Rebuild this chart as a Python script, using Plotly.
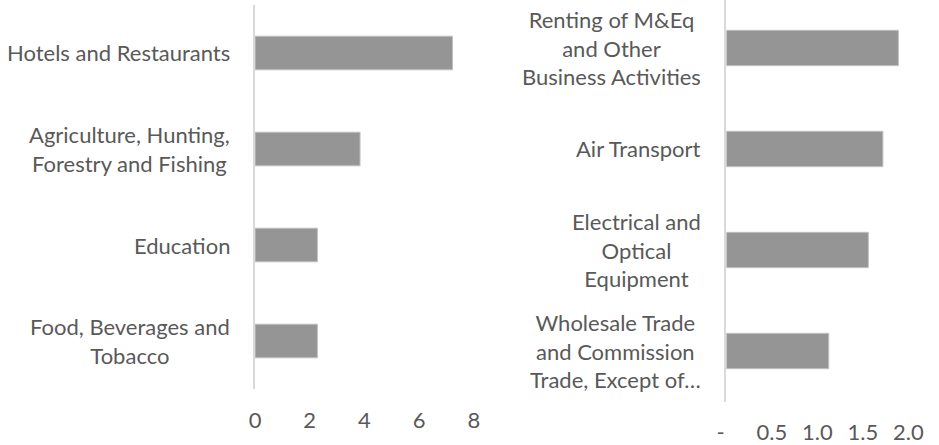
import plotly.graph_objects as go

# left panel
left_cats = ["Hotels and Restaurants",
             "Agriculture, Hunting,<br>Forestry and Fishing",
             "Education",
             "Food, Beverages and<br>Tobacco"]
left_vals = [7.22, 3.84, 2.28, 2.28]
left_ticks = [0, 2, 4, 6, 8]
left_ticktext = ["0", "2", "4", "6", "8"]

# right panel
right_cats = ["Renting of M&Eq<br>and Other<br>Business Activities",
              "Air Transport",
              "Electrical and<br>Optical<br>Equipment",
              "Wholesale Trade<br>and Commission<br>Trade, Except of…"]
right_vals = [1.89, 1.72, 1.56, 1.125]
right_ticks = [0, 0.5, 1.0, 1.5, 2.0]
right_ticktext = ["-\u00a0\u00a0", "0.5", "1.0", "1.5", "2.0"]

BAR = "#959595"
TXT = "#595959"
FONT = "Lato"
FS = 22

fig = go.Figure()
fig.add_trace(go.Bar(x=left_vals, y=left_cats, orientation="h", width=0.35,
                     marker=dict(color=BAR, line=dict(color="#c0c0c0", width=1)),
                     xaxis="x", yaxis="y", showlegend=False))
fig.add_trace(go.Bar(x=right_vals, y=right_cats, orientation="h", width=0.35,
                     marker=dict(color=BAR, line=dict(color="#c0c0c0", width=1)),
                     xaxis="x2", yaxis="y2", showlegend=False))

# category labels as annotations so the wrapped lines are centred
ann = []
for c in left_cats:
    ann.append(dict(x=0, y=c, xref="x domain", yref="y", text=c, showarrow=False,
                    xanchor="right", xshift=-23, align="center",
                    font=dict(family=FONT, size=FS, color=TXT)))
for c in right_cats:
    ann.append(dict(x=0, y=c, xref="x2 domain", yref="y2", text=c, showarrow=False,
                    xanchor="right", xshift=-23, align="center",
                    font=dict(family=FONT, size=FS, color=TXT)))

axis_font = dict(family=FONT, size=FS, color=TXT)
fig.update_layout(
    width=939, height=445,
    margin=dict(l=0, r=0, t=0, b=0),
    paper_bgcolor="white", plot_bgcolor="white",
    font=dict(family=FONT, color=TXT),
    annotations=ann,
    xaxis=dict(domain=[0.2684, 0.508], range=[0, 8], tickvals=left_ticks,
               ticktext=left_ticktext, showgrid=False, zeroline=False,
               showline=False, ticks="", tickfont=axis_font, anchor="y",
               ticklabelstandoff=16),
    yaxis=dict(domain=[0.1258, 0.9888], categoryorder="array",
               categoryarray=left_cats[::-1], range=[-0.5, 3.5],
               showticklabels=False, showgrid=False, zeroline=False,
               showline=True, linecolor="#d9d9d9", linewidth=1.5, ticks="",
               anchor="x"),
    xaxis2=dict(domain=[0.7846, 0.984], range=[0, 2], tickvals=right_ticks,
                ticktext=right_ticktext, showgrid=False, zeroline=False,
                showline=False, ticks="", tickfont=axis_font, anchor="y2",
                ticklabelstandoff=15),
    yaxis2=dict(domain=[0.0966, 1.0], categoryorder="array",
                categoryarray=right_cats[::-1], range=[-0.505, 3.475],
                showticklabels=False, showgrid=False, zeroline=False,
                showline=True, linecolor="#d9d9d9", linewidth=1.5, ticks="",
                anchor="x2"),
)

# drop the default body margin so the figure fills the window exactly
fig.write_html("out.html", config={"displayModeBar": False},
               post_script="document.body.style.margin='0';")
